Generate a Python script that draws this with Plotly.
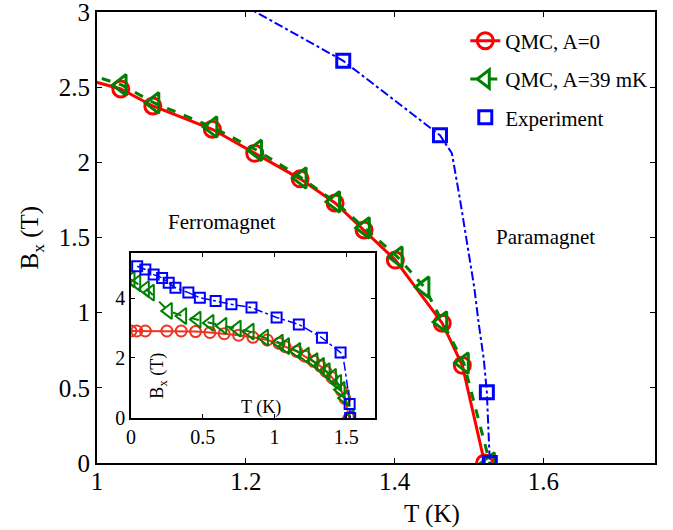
import plotly.graph_objects as go

# ---------------- data ----------------
# QMC, A=0
T_a0 = [0.0, 0.04, 0.10, 0.25, 0.35, 0.45, 0.55, 0.65, 0.75, 0.85, 0.95,
        1.032, 1.075, 1.155, 1.212, 1.273, 1.32, 1.359, 1.401, 1.464, 1.491, 1.521]
B_a0 = [2.90, 2.90, 2.90, 2.90, 2.90, 2.88, 2.85, 2.81, 2.76, 2.69, 2.60,
        2.488, 2.375, 2.22, 2.06, 1.89, 1.73, 1.55, 1.35, 0.93, 0.65, 0.0]

# QMC, A=39 mK
T_a39 = [0.0, 0.04, 0.10, 0.135, 0.26, 0.36, 0.46, 0.55, 0.64, 0.74, 0.83, 0.93,
         1.033, 1.077, 1.155, 1.215, 1.275, 1.32, 1.36, 1.404, 1.44, 1.464, 1.493, 1.528]
B_a39 = [4.62, 4.50, 4.30, 4.18, 3.57, 3.40, 3.28, 3.17, 3.07, 2.98, 2.88, 2.68,
         2.515, 2.395, 2.235, 2.08, 1.896, 1.737, 1.564, 1.37, 1.17, 0.938, 0.665, 0.0]

# Experiment
T_exp = [0.043, 0.10, 0.158, 0.217, 0.263, 0.31, 0.40, 0.48, 0.59, 0.70, 0.84,
         1.015, 1.17, 1.331, 1.461, 1.524, 1.528]
B_exp = [5.06, 4.95, 4.78, 4.67, 4.51, 4.34, 4.18, 4.01, 3.90, 3.79, 3.68,
         3.35, 3.12, 2.675, 2.18, 0.47, 0.0]

# dash-dot guide curve through the experimental points
T_fit = [0.043, 0.10, 0.158, 0.217, 0.263, 0.31, 0.40, 0.48, 0.59, 0.70, 0.84,
         1.015, 1.17, 1.331, 1.461, 1.477, 1.488, 1.497, 1.507, 1.513, 1.52, 1.524, 1.528]
B_fit = [5.06, 4.95, 4.78, 4.67, 4.51, 4.34, 4.18, 4.01, 3.90, 3.79, 3.68,
         3.35, 3.12, 2.675, 2.18, 2.06, 1.75, 1.48, 1.17, 0.93, 0.685, 0.47, 0.0]

main_xticks = [1, 1.2, 1.4, 1.6]
main_yticks = [0, 0.5, 1, 1.5, 2, 2.5, 3]
inset_xticks = [0, 0.5, 1, 1.5]
inset_yticks = [0, 2, 4]

RED = "#ff0000"
RED_IN = "#ee3322"
GREEN = "#008000"
BLUE = "#0000ff"
FONT = "Liberation Serif"

fig = go.Figure()

# ---------------- main axes ----------------
fig.add_trace(go.Scatter(
    x=T_a0, y=B_a0, mode="lines+markers", name="QMC, A=0", legendgroup="a0",
    line=dict(color=RED, width=3),
    marker=dict(symbol="circle-open", size=16, color=RED, line=dict(width=3)),
    xaxis="x", yaxis="y"))
fig.add_trace(go.Scatter(
    x=T_a39, y=B_a39, mode="lines+markers", name="QMC, A=39 mK", legendgroup="a39",
    line=dict(color=GREEN, width=3, dash="dash"),
    marker=dict(symbol="triangle-left-open", size=18, color=GREEN, line=dict(width=3)),
    xaxis="x", yaxis="y"))
fig.add_trace(go.Scatter(
    x=T_fit, y=B_fit, mode="lines", showlegend=False, legendgroup="fit",
    line=dict(color=BLUE, width=2, dash="dashdot"),
    xaxis="x", yaxis="y"))
fig.add_trace(go.Scatter(
    x=T_exp, y=B_exp, mode="markers", name="Experiment", legendgroup="exp",
    marker=dict(symbol="square-open", size=13, color=BLUE, line=dict(width=3)),
    xaxis="x", yaxis="y"))

# ---------------- inset axes ----------------
fig.add_trace(go.Scatter(
    x=T_a0, y=B_a0, mode="lines+markers", showlegend=False,
    line=dict(color=RED_IN, width=2),
    marker=dict(symbol="circle-open", size=11, color=RED_IN, line=dict(width=2)),
    xaxis="x2", yaxis="y2"))
fig.add_trace(go.Scatter(
    x=T_a39, y=B_a39, mode="lines+markers", showlegend=False,
    line=dict(color=GREEN, width=2, dash="dash"),
    marker=dict(symbol="triangle-left-open", size=14, color=GREEN, line=dict(width=2)),
    xaxis="x2", yaxis="y2"))
fig.add_trace(go.Scatter(
    x=T_fit, y=B_fit, mode="lines", showlegend=False,
    line=dict(color=BLUE, width=1.5, dash="dashdot"),
    xaxis="x2", yaxis="y2"))
fig.add_trace(go.Scatter(
    x=T_exp, y=B_exp, mode="markers", showlegend=False,
    marker=dict(symbol="square-open", size=10, color=BLUE, line=dict(width=2)),
    xaxis="x2", yaxis="y2"))

axis_common = dict(showgrid=False, zeroline=False, showline=True, linecolor="black",
                   ticks="inside", mirror="ticks", tickcolor="black", automargin=False,
                   ticklabeloverflow="allow")

fig.update_layout(
    width=673, height=530,
    margin=dict(l=97, r=18, t=12, b=67, pad=0, autoexpand=False),
    paper_bgcolor="white", plot_bgcolor="white",
    font=dict(family=FONT, color="black"),
    xaxis=dict(domain=[0, 1], range=[1, 1.75], tickvals=main_xticks,
               ticklen=5, linewidth=2, tickwidth=1, ticklabelstandoff=-5,
               tickfont=dict(size=25, family=FONT), **axis_common),
    yaxis=dict(domain=[0, 1], range=[0, 3], tickvals=main_yticks,
               ticklen=5, linewidth=2, tickwidth=1,
               tickfont=dict(size=25, family=FONT), **axis_common),
    xaxis2=dict(domain=[0.0609, 0.498], range=[0, 1.7], anchor="y2", tickvals=inset_xticks,
                ticklen=4, linewidth=1.5, tickwidth=1,
                tickfont=dict(size=20, family=FONT), **axis_common),
    yaxis2=dict(domain=[0.0998, 0.4656], range=[0, 5.5], anchor="x2", tickvals=inset_yticks,
                ticklen=4, linewidth=1.5, tickwidth=1,
                tickfont=dict(size=20, family=FONT), **axis_common),
    legend=dict(x=0.66, y=0.981, xanchor="left", yanchor="top",
                bgcolor="rgba(0,0,0,0)", borderwidth=0,
                font=dict(size=21, family=FONT),
                traceorder="grouped", tracegroupgap=8),
    annotations=[
        dict(text="Ferromagnet", x=1.1667, y=1.603, xref="x", yref="y",
             xanchor="center", yanchor="middle",
             showarrow=False, font=dict(size=21, family=FONT)),
        dict(text="Paramagnet", x=1.6033, y=1.504, xref="x", yref="y",
             xanchor="center", yanchor="middle",
             showarrow=False, font=dict(size=21, family=FONT)),
        dict(text="T (K)", x=0.600, y=-0.113, xref="paper", yref="paper",
             xanchor="center", yanchor="middle",
             showarrow=False, font=dict(size=25, family=FONT)),
        dict(text="B<sub>x</sub> (T)", x=-0.1165, y=0.5, xref="paper", yref="paper",
             xanchor="center", yanchor="middle",
             showarrow=False, textangle=-90, font=dict(size=25, family=FONT)),
        dict(text="T (K)", x=0.906, y=0.36, xref="x2", yref="y2",
             xanchor="center", yanchor="middle",
             showarrow=False, font=dict(size=18, family=FONT)),
        dict(text="B<sub>x</sub> (T)", x=0.19, y=1.42, xref="x2", yref="y2",
             xanchor="center", yanchor="middle",
             showarrow=False, textangle=-90, font=dict(size=18, family=FONT)),
    ],
)

fig.write_html("out.html")
